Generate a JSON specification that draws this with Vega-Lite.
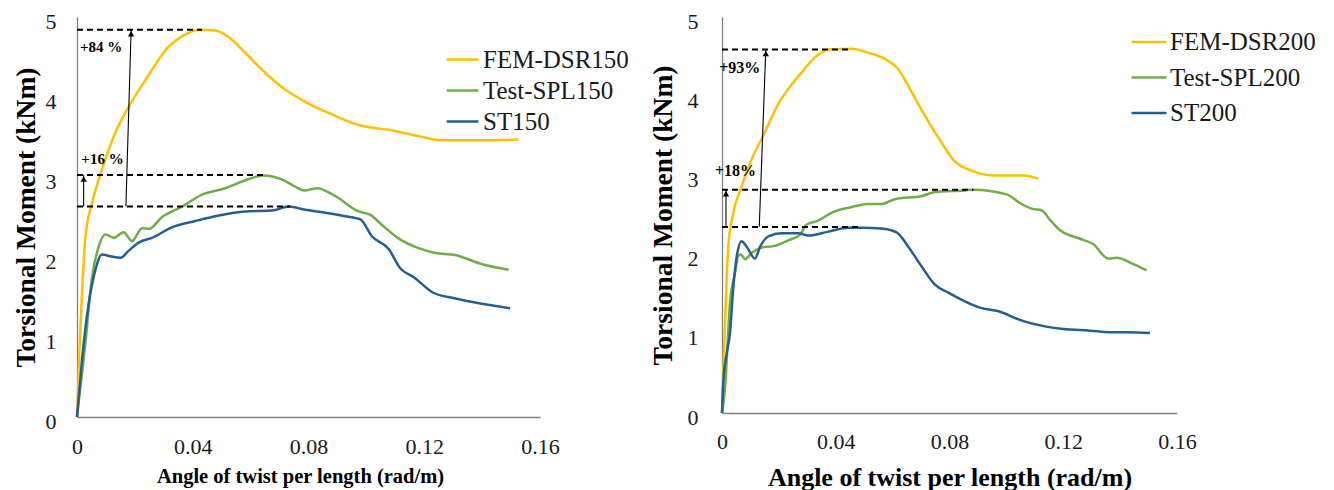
{
"$schema": "https://vega.github.io/schema/vega-lite/v6.json",
"padding": {"left": 12, "top": 10, "right": 0, "bottom": 0},
"spacing": 20,
"config": {
  "view": {"stroke": null},
  "font": "Liberation Serif",
  "style": {"guide-label": {"font": "Liberation Serif", "fontSize": 22, "fill": "#1a1a1a"}, "guide-title": {"font": "Liberation Serif", "fill": "#000000"}},
  "axis": {"grid": false, "ticks": false, "domainColor": "#808080", "domainWidth": 1.3, "labelFont": "Liberation Serif", "titleFont": "Liberation Serif", "labelColor": "#1a1a1a", "titleColor": "#000000", "labelFontSize": 22, "titleFontWeight": "bold", "labelFlush": false, "labelOverlap": false},
  "legend": {"orient": "none", "title": null, "labelFont": "Liberation Serif", "labelFontSize": 25, "labelColor": "#1a1a1a", "symbolType": "stroke", "symbolStrokeWidth": 2.5, "rowPadding": 0, "labelOffset": 3}
},
"datasets": {
 "curves": [
  {"p":"p150","s":"FEM-DSR150","x":0,"y":0},
  {"p":"p150","s":"FEM-DSR150","x":0.0008,"y":0.8},
  {"p":"p150","s":"FEM-DSR150","x":0.0018,"y":1.6},
  {"p":"p150","s":"FEM-DSR150","x":0.0029,"y":2.25},
  {"p":"p150","s":"FEM-DSR150","x":0.0052,"y":2.67},
  {"p":"p150","s":"FEM-DSR150","x":0.0086,"y":3.09},
  {"p":"p150","s":"FEM-DSR150","x":0.0132,"y":3.55},
  {"p":"p150","s":"FEM-DSR150","x":0.0179,"y":3.88},
  {"p":"p150","s":"FEM-DSR150","x":0.0236,"y":4.21},
  {"p":"p150","s":"FEM-DSR150","x":0.0317,"y":4.63},
  {"p":"p150","s":"FEM-DSR150","x":0.0374,"y":4.78},
  {"p":"p150","s":"FEM-DSR150","x":0.0421,"y":4.84},
  {"p":"p150","s":"FEM-DSR150","x":0.0478,"y":4.83},
  {"p":"p150","s":"FEM-DSR150","x":0.0524,"y":4.75},
  {"p":"p150","s":"FEM-DSR150","x":0.0582,"y":4.55},
  {"p":"p150","s":"FEM-DSR150","x":0.0651,"y":4.30},
  {"p":"p150","s":"FEM-DSR150","x":0.072,"y":4.09},
  {"p":"p150","s":"FEM-DSR150","x":0.0789,"y":3.94},
  {"p":"p150","s":"FEM-DSR150","x":0.087,"y":3.80},
  {"p":"p150","s":"FEM-DSR150","x":0.0973,"y":3.65},
  {"p":"p150","s":"FEM-DSR150","x":0.1077,"y":3.59},
  {"p":"p150","s":"FEM-DSR150","x":0.1169,"y":3.52},
  {"p":"p150","s":"FEM-DSR150","x":0.1261,"y":3.46},
  {"p":"p150","s":"FEM-DSR150","x":0.14,"y":3.46},
  {"p":"p150","s":"FEM-DSR150","x":0.1526,"y":3.47},
  {"p":"p150","s":"Test-SPL150","x":0,"y":0},
  {"p":"p150","s":"Test-SPL150","x":0.0029,"y":0.92},
  {"p":"p150","s":"Test-SPL150","x":0.0052,"y":1.75},
  {"p":"p150","s":"Test-SPL150","x":0.0075,"y":2.13},
  {"p":"p150","s":"Test-SPL150","x":0.0098,"y":2.28},
  {"p":"p150","s":"Test-SPL150","x":0.0127,"y":2.24},
  {"p":"p150","s":"Test-SPL150","x":0.0161,"y":2.31},
  {"p":"p150","s":"Test-SPL150","x":0.019,"y":2.2},
  {"p":"p150","s":"Test-SPL150","x":0.0225,"y":2.36},
  {"p":"p150","s":"Test-SPL150","x":0.0248,"y":2.35},
  {"p":"p150","s":"Test-SPL150","x":0.0294,"y":2.50},
  {"p":"p150","s":"Test-SPL150","x":0.0363,"y":2.63},
  {"p":"p150","s":"Test-SPL150","x":0.0432,"y":2.78},
  {"p":"p150","s":"Test-SPL150","x":0.0512,"y":2.86},
  {"p":"p150","s":"Test-SPL150","x":0.0582,"y":2.96},
  {"p":"p150","s":"Test-SPL150","x":0.0645,"y":3.02},
  {"p":"p150","s":"Test-SPL150","x":0.0708,"y":2.97},
  {"p":"p150","s":"Test-SPL150","x":0.0754,"y":2.88},
  {"p":"p150","s":"Test-SPL150","x":0.0785,"y":2.83},
  {"p":"p150","s":"Test-SPL150","x":0.083,"y":2.86},
  {"p":"p150","s":"Test-SPL150","x":0.0893,"y":2.76},
  {"p":"p150","s":"Test-SPL150","x":0.0973,"y":2.57},
  {"p":"p150","s":"Test-SPL150","x":0.1013,"y":2.53},
  {"p":"p150","s":"Test-SPL150","x":0.1054,"y":2.4},
  {"p":"p150","s":"Test-SPL150","x":0.1112,"y":2.23},
  {"p":"p150","s":"Test-SPL150","x":0.1181,"y":2.11},
  {"p":"p150","s":"Test-SPL150","x":0.1238,"y":2.05},
  {"p":"p150","s":"Test-SPL150","x":0.1307,"y":2.025},
  {"p":"p150","s":"Test-SPL150","x":0.14,"y":1.91},
  {"p":"p150","s":"Test-SPL150","x":0.1492,"y":1.84},
  {"p":"p150","s":"ST150","x":0,"y":0},
  {"p":"p150","s":"ST150","x":0.0017,"y":0.7},
  {"p":"p150","s":"ST150","x":0.004,"y":1.41},
  {"p":"p150","s":"ST150","x":0.0063,"y":1.83},
  {"p":"p150","s":"ST150","x":0.0086,"y":2.03},
  {"p":"p150","s":"ST150","x":0.0115,"y":2.01},
  {"p":"p150","s":"ST150","x":0.015,"y":1.99},
  {"p":"p150","s":"ST150","x":0.0179,"y":2.08},
  {"p":"p150","s":"ST150","x":0.0213,"y":2.18},
  {"p":"p150","s":"ST150","x":0.0259,"y":2.24},
  {"p":"p150","s":"ST150","x":0.0328,"y":2.37},
  {"p":"p150","s":"ST150","x":0.0409,"y":2.45},
  {"p":"p150","s":"ST150","x":0.049,"y":2.52},
  {"p":"p150","s":"ST150","x":0.0582,"y":2.57},
  {"p":"p150","s":"ST150","x":0.0674,"y":2.58},
  {"p":"p150","s":"ST150","x":0.0732,"y":2.63},
  {"p":"p150","s":"ST150","x":0.0789,"y":2.59},
  {"p":"p150","s":"ST150","x":0.0847,"y":2.56},
  {"p":"p150","s":"ST150","x":0.0927,"y":2.51},
  {"p":"p150","s":"ST150","x":0.0979,"y":2.47},
  {"p":"p150","s":"ST150","x":0.1019,"y":2.26},
  {"p":"p150","s":"ST150","x":0.1077,"y":2.1},
  {"p":"p150","s":"ST150","x":0.1117,"y":1.86},
  {"p":"p150","s":"ST150","x":0.1163,"y":1.75},
  {"p":"p150","s":"ST150","x":0.1233,"y":1.55},
  {"p":"p150","s":"ST150","x":0.1296,"y":1.49},
  {"p":"p150","s":"ST150","x":0.1376,"y":1.43},
  {"p":"p150","s":"ST150","x":0.1497,"y":1.36},
  {"p":"p200","s":"FEM-DSR200","x":0,"y":0},
  {"p":"p200","s":"FEM-DSR200","x":0.0011,"y":1.18},
  {"p":"p200","s":"FEM-DSR200","x":0.0022,"y":2.1},
  {"p":"p200","s":"FEM-DSR200","x":0.004,"y":2.53},
  {"p":"p200","s":"FEM-DSR200","x":0.0069,"y":2.86},
  {"p":"p200","s":"FEM-DSR200","x":0.0104,"y":3.2},
  {"p":"p200","s":"FEM-DSR200","x":0.0145,"y":3.5},
  {"p":"p200","s":"FEM-DSR200","x":0.0204,"y":3.94},
  {"p":"p200","s":"FEM-DSR200","x":0.0233,"y":4.09},
  {"p":"p200","s":"FEM-DSR200","x":0.028,"y":4.3},
  {"p":"p200","s":"FEM-DSR200","x":0.0327,"y":4.49},
  {"p":"p200","s":"FEM-DSR200","x":0.0374,"y":4.59},
  {"p":"p200","s":"FEM-DSR200","x":0.0456,"y":4.6},
  {"p":"p200","s":"FEM-DSR200","x":0.0514,"y":4.55},
  {"p":"p200","s":"FEM-DSR200","x":0.0573,"y":4.47},
  {"p":"p200","s":"FEM-DSR200","x":0.062,"y":4.34},
  {"p":"p200","s":"FEM-DSR200","x":0.0667,"y":4.05},
  {"p":"p200","s":"FEM-DSR200","x":0.0714,"y":3.75},
  {"p":"p200","s":"FEM-DSR200","x":0.0773,"y":3.41},
  {"p":"p200","s":"FEM-DSR200","x":0.0813,"y":3.2},
  {"p":"p200","s":"FEM-DSR200","x":0.0884,"y":3.05},
  {"p":"p200","s":"FEM-DSR200","x":0.0954,"y":3.0},
  {"p":"p200","s":"FEM-DSR200","x":0.1059,"y":3.0},
  {"p":"p200","s":"FEM-DSR200","x":0.1112,"y":2.96},
  {"p":"p200","s":"Test-SPL200","x":0,"y":0},
  {"p":"p200","s":"Test-SPL200","x":0.0011,"y":0.33},
  {"p":"p200","s":"Test-SPL200","x":0.0028,"y":1.39},
  {"p":"p200","s":"Test-SPL200","x":0.0046,"y":1.77},
  {"p":"p200","s":"Test-SPL200","x":0.0057,"y":1.98},
  {"p":"p200","s":"Test-SPL200","x":0.0067,"y":2.0},
  {"p":"p200","s":"Test-SPL200","x":0.0081,"y":1.94},
  {"p":"p200","s":"Test-SPL200","x":0.0104,"y":2.02},
  {"p":"p200","s":"Test-SPL200","x":0.014,"y":2.09},
  {"p":"p200","s":"Test-SPL200","x":0.0186,"y":2.11},
  {"p":"p200","s":"Test-SPL200","x":0.0233,"y":2.18},
  {"p":"p200","s":"Test-SPL200","x":0.0274,"y":2.25},
  {"p":"p200","s":"Test-SPL200","x":0.0298,"y":2.38},
  {"p":"p200","s":"Test-SPL200","x":0.0339,"y":2.43},
  {"p":"p200","s":"Test-SPL200","x":0.0386,"y":2.53},
  {"p":"p200","s":"Test-SPL200","x":0.0456,"y":2.6},
  {"p":"p200","s":"Test-SPL200","x":0.0514,"y":2.64},
  {"p":"p200","s":"Test-SPL200","x":0.0561,"y":2.64},
  {"p":"p200","s":"Test-SPL200","x":0.0608,"y":2.7},
  {"p":"p200","s":"Test-SPL200","x":0.0702,"y":2.74},
  {"p":"p200","s":"Test-SPL200","x":0.0749,"y":2.79},
  {"p":"p200","s":"Test-SPL200","x":0.0854,"y":2.81},
  {"p":"p200","s":"Test-SPL200","x":0.0884,"y":2.82},
  {"p":"p200","s":"Test-SPL200","x":0.1001,"y":2.76},
  {"p":"p200","s":"Test-SPL200","x":0.1048,"y":2.65},
  {"p":"p200","s":"Test-SPL200","x":0.1089,"y":2.58},
  {"p":"p200","s":"Test-SPL200","x":0.1124,"y":2.56},
  {"p":"p200","s":"Test-SPL200","x":0.1153,"y":2.44},
  {"p":"p200","s":"Test-SPL200","x":0.1188,"y":2.31},
  {"p":"p200","s":"Test-SPL200","x":0.1259,"y":2.2},
  {"p":"p200","s":"Test-SPL200","x":0.1306,"y":2.13},
  {"p":"p200","s":"Test-SPL200","x":0.1358,"y":1.95},
  {"p":"p200","s":"Test-SPL200","x":0.1388,"y":1.96},
  {"p":"p200","s":"Test-SPL200","x":0.1441,"y":1.89},
  {"p":"p200","s":"Test-SPL200","x":0.1493,"y":1.8},
  {"p":"p200","s":"ST200","x":0,"y":0},
  {"p":"p200","s":"ST200","x":0.0005,"y":0.42},
  {"p":"p200","s":"ST200","x":0.0017,"y":0.76},
  {"p":"p200","s":"ST200","x":0.0028,"y":1.01},
  {"p":"p200","s":"ST200","x":0.004,"y":1.6},
  {"p":"p200","s":"ST200","x":0.0052,"y":1.98},
  {"p":"p200","s":"ST200","x":0.0069,"y":2.17},
  {"p":"p200","s":"ST200","x":0.0087,"y":2.1},
  {"p":"p200","s":"ST200","x":0.0116,"y":1.95},
  {"p":"p200","s":"ST200","x":0.0134,"y":2.1},
  {"p":"p200","s":"ST200","x":0.0163,"y":2.23},
  {"p":"p200","s":"ST200","x":0.021,"y":2.27},
  {"p":"p200","s":"ST200","x":0.0268,"y":2.27},
  {"p":"p200","s":"ST200","x":0.0303,"y":2.24},
  {"p":"p200","s":"ST200","x":0.0374,"y":2.29},
  {"p":"p200","s":"ST200","x":0.0444,"y":2.34},
  {"p":"p200","s":"ST200","x":0.0491,"y":2.34},
  {"p":"p200","s":"ST200","x":0.0561,"y":2.33},
  {"p":"p200","s":"ST200","x":0.0614,"y":2.28},
  {"p":"p200","s":"ST200","x":0.0655,"y":2.1},
  {"p":"p200","s":"ST200","x":0.0702,"y":1.85},
  {"p":"p200","s":"ST200","x":0.0749,"y":1.62},
  {"p":"p200","s":"ST200","x":0.0796,"y":1.52},
  {"p":"p200","s":"ST200","x":0.0854,"y":1.41},
  {"p":"p200","s":"ST200","x":0.0907,"y":1.33},
  {"p":"p200","s":"ST200","x":0.0966,"y":1.29},
  {"p":"p200","s":"ST200","x":0.106,"y":1.16},
  {"p":"p200","s":"ST200","x":0.12,"y":1.06},
  {"p":"p200","s":"ST200","x":0.1294,"y":1.04},
  {"p":"p200","s":"ST200","x":0.1364,"y":1.02},
  {"p":"p200","s":"ST200","x":0.1423,"y":1.02},
  {"p":"p200","s":"ST200","x":0.1505,"y":1.01}
 ],
 "guides": [
  {"p":"p150","x":0,"x2":0.0432,"y":4.84},
  {"p":"p150","x":0,"x2":0.065,"y":3.025},
  {"p":"p150","x":0,"x2":0.0736,"y":2.63},
  {"p":"p200","x":0,"x2":0.0456,"y":4.59},
  {"p":"p200","x":0,"x2":0.0884,"y":2.82},
  {"p":"p200","x":0,"x2":0.0491,"y":2.35}
 ],
 "arrows": [
  {"p":"p150","x":0.0169,"x2":0.0187,"y":2.63,"y2":4.84},
  {"p":"p150","x":0.0023,"x2":0.0023,"y":2.63,"y2":3.025},
  {"p":"p200","x":0.0131,"x2":0.0154,"y":2.35,"y2":4.59},
  {"p":"p200","x":0.0014,"x2":0.0014,"y":2.35,"y2":2.82}
 ],
 "labels": [
  {"p":"p150","x":0.001,"y":4.62,"t":"+84 %"},
  {"p":"p150","x":0.0015,"y":3.22,"t":"+16 %"},
  {"p":"p200","x":-0.001,"y":4.36,"t":"+93%"},
  {"p":"p200","x":-0.0025,"y":3.05,"t":"+18%"}
 ]
},
"resolve": {"scale": {"color": "independent"}},
"hconcat": [
 {
  "width": 463, "height": 400,
  "layer": [
   {
    "data": {"name": "curves"},
    "transform": [{"filter": "datum.p == 'p150'"}],
    "mark": {"type": "line", "interpolate": "monotone", "strokeWidth": 2.5},
    "encoding": {
     "x": {"field": "x", "type": "quantitative", "scale": {"domain": [0, 0.16], "nice": false}, "axis": {"title": "Angle of twist per length (rad/m)", "values": [0, 0.04, 0.08, 0.12, 0.16], "format": "~g", "labelFont": "Liberation Serif", "labelFontSize": 22, "labelColor": "#1a1a1a", "labelPadding": 19, "titlePadding": 9, "titleFont": "Liberation Serif", "titleFontSize": 20.5, "titleX": 223}},
     "y": {"field": "y", "type": "quantitative", "scale": {"domain": [0, 5], "nice": false}, "axis": {"title": "Torsional Moment (kNm)", "values": [0, 1, 2, 3, 4, 5], "format": "d", "labelFont": "Liberation Serif", "labelFontSize": 22, "labelColor": "#1a1a1a", "labelPadding": 21, "titlePadding": 5, "titleFont": "Liberation Serif", "titleFontSize": 27.5, "labelOffset": 4}},
     "color": {"field": "s", "type": "nominal", "scale": {"domain": ["FEM-DSR150", "Test-SPL150", "ST150"], "range": ["#FFC000", "#70AD47", "#255E91"]}, "legend": {"legendX": 368, "legendY": 25, "symbolSize": 1000}}
    }
   },
   {
    "data": {"name": "guides"},
    "transform": [{"filter": "datum.p == 'p150'"}],
    "mark": {"type": "rule", "color": "#000000", "strokeWidth": 2, "strokeDash": [6, 4]},
    "encoding": {"x": {"field": "x", "type": "quantitative"}, "x2": {"field": "x2"}, "y": {"field": "y", "type": "quantitative"}}
   },
   {
    "data": {"name": "arrows"},
    "transform": [{"filter": "datum.p == 'p150'"}],
    "mark": {"type": "rule", "color": "#000000", "strokeWidth": 1.1},
    "encoding": {"x": {"field": "x", "type": "quantitative"}, "x2": {"field": "x2"}, "y": {"field": "y", "type": "quantitative"}, "y2": {"field": "y2"}}
   },
   {
    "data": {"name": "arrows"},
    "transform": [{"filter": "datum.p == 'p150'"}],
    "mark": {"type": "point", "shape": "triangle-up", "filled": true, "color": "#000000", "size": 40, "opacity": 1, "yOffset": 4},
    "encoding": {"x": {"field": "x2", "type": "quantitative"}, "y": {"field": "y2", "type": "quantitative"}}
   },
   {
    "data": {"name": "labels"},
    "transform": [{"filter": "datum.p == 'p150'"}],
    "mark": {"type": "text", "align": "left", "baseline": "middle", "font": "Liberation Serif", "fontWeight": "bold", "fontSize": 15, "color": "#000000"},
    "encoding": {"x": {"field": "x", "type": "quantitative"}, "y": {"field": "y", "type": "quantitative"}, "text": {"field": "t"}}
   }
  ]
 },
 {
  "width": 455, "height": 396,
  "layer": [
   {
    "data": {"name": "curves"},
    "transform": [{"filter": "datum.p == 'p200'"}],
    "mark": {"type": "line", "interpolate": "monotone", "strokeWidth": 2.5},
    "encoding": {
     "x": {"field": "x", "type": "quantitative", "scale": {"domain": [0, 0.16], "nice": false}, "axis": {"title": "Angle of twist per length (rad/m)", "values": [0, 0.04, 0.08, 0.12, 0.16], "format": "~g", "labelFont": "Liberation Serif", "labelFontSize": 22, "labelColor": "#1a1a1a", "labelPadding": 18, "titlePadding": 12, "titleFont": "Liberation Serif", "titleFontSize": 26}},
     "y": {"field": "y", "type": "quantitative", "scale": {"domain": [0, 5], "nice": false}, "axis": {"title": "Torsional Moment (kNm)", "values": [0, 1, 2, 3, 4, 5], "format": "d", "labelFont": "Liberation Serif", "labelFontSize": 22, "labelColor": "#1a1a1a", "labelPadding": 24, "titlePadding": 10, "titleFont": "Liberation Serif", "titleFontSize": 27.5, "labelOffset": 4}},
     "color": {"field": "s", "type": "nominal", "scale": {"domain": ["FEM-DSR200", "Test-SPL200", "ST200"], "range": ["#FFC000", "#70AD47", "#255E91"]}, "legend": {"legendX": 408, "legendY": 6, "symbolSize": 1225, "rowPadding": 3.5, "labelOffset": 2}}
    }
   },
   {
    "data": {"name": "guides"},
    "transform": [{"filter": "datum.p == 'p200'"}],
    "mark": {"type": "rule", "color": "#000000", "strokeWidth": 2, "strokeDash": [6, 4]},
    "encoding": {"x": {"field": "x", "type": "quantitative"}, "x2": {"field": "x2"}, "y": {"field": "y", "type": "quantitative"}}
   },
   {
    "data": {"name": "arrows"},
    "transform": [{"filter": "datum.p == 'p200'"}],
    "mark": {"type": "rule", "color": "#000000", "strokeWidth": 1.1},
    "encoding": {"x": {"field": "x", "type": "quantitative"}, "x2": {"field": "x2"}, "y": {"field": "y", "type": "quantitative"}, "y2": {"field": "y2"}}
   },
   {
    "data": {"name": "arrows"},
    "transform": [{"filter": "datum.p == 'p200'"}],
    "mark": {"type": "point", "shape": "triangle-up", "filled": true, "color": "#000000", "size": 40, "opacity": 1, "yOffset": 4},
    "encoding": {"x": {"field": "x2", "type": "quantitative"}, "y": {"field": "y2", "type": "quantitative"}}
   },
   {
    "data": {"name": "labels"},
    "transform": [{"filter": "datum.p == 'p200'"}],
    "mark": {"type": "text", "align": "left", "baseline": "middle", "font": "Liberation Serif", "fontWeight": "bold", "fontSize": 16, "color": "#000000"},
    "encoding": {"x": {"field": "x", "type": "quantitative"}, "y": {"field": "y", "type": "quantitative"}, "text": {"field": "t"}}
   }
  ]
 }
]
}
